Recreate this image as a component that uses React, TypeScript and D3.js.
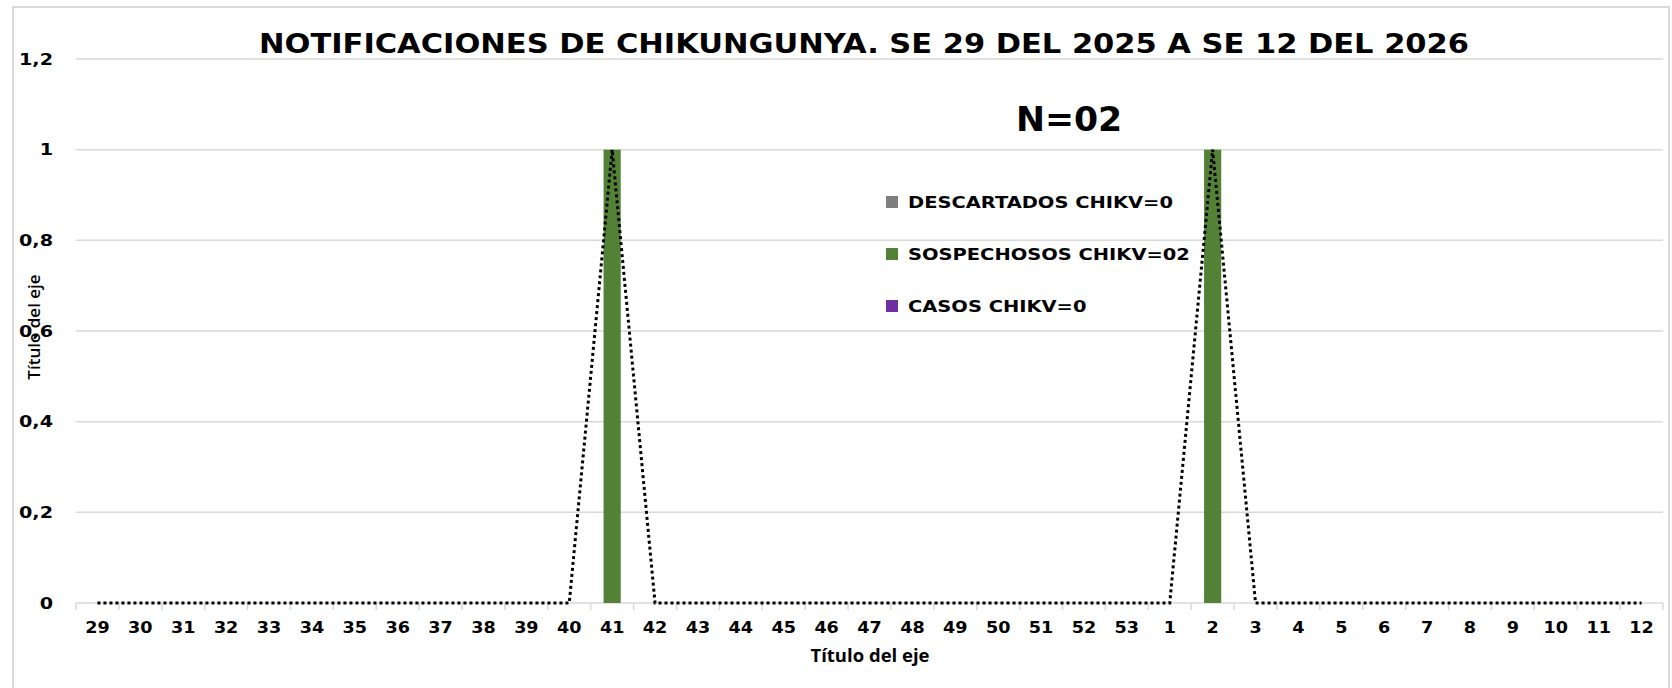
import * as d3 from "d3";

// semanas epidemiologicas
const weeks = [
  "29", "30", "31", "32", "33", "34", "35", "36", "37", "38", "39", "40", "41",
  "42", "43", "44", "45", "46", "47", "48", "49", "50", "51", "52", "53",
  "1", "2", "3", "4", "5", "6", "7", "8", "9", "10", "11", "12",
];
const descartados = [
  0, 0, 0, 0, 0, 0, 0, 0, 0, 0, 0, 0, 0, 0, 0, 0, 0, 0, 0, 0, 0, 0, 0, 0, 0,
  0, 0, 0, 0, 0, 0, 0, 0, 0, 0, 0, 0,
];
const sospechosos = [
  0, 0, 0, 0, 0, 0, 0, 0, 0, 0, 0, 0, 1, 0, 0, 0, 0, 0, 0, 0, 0, 0, 0, 0, 0,
  0, 1, 0, 0, 0, 0, 0, 0, 0, 0, 0, 0,
];
const casos = [
  0, 0, 0, 0, 0, 0, 0, 0, 0, 0, 0, 0, 0, 0, 0, 0, 0, 0, 0, 0, 0, 0, 0, 0, 0,
  0, 0, 0, 0, 0, 0, 0, 0, 0, 0, 0, 0,
];
const yTicks = [0, 0.2, 0.4, 0.6, 0.8, 1, 1.2];
const legendNames = ["DESCARTADOS CHIKV=0", "SOSPECHOSOS CHIKV=02", "CASOS CHIKV=0"];
const colors = ["#7f7f7f", "#538135", "#7030a0"];

export default function App() {
  const width = 1672,
    height = 688,
    plotLeft = 76,
    plotRight = 1663,
    plotTop = 59,
    plotBottom = 603,
    font = "'DejaVu Sans', sans-serif",
    grid = "#d9d9d9",
    stretch = 1.2; // el original esta estirado a lo ancho

  const xScale = d3.scaleBand().domain(weeks).range([plotLeft, plotRight]);
  const yScale = d3.scaleLinear().domain([0, 1.2]).range([plotBottom, plotTop]);
  const barW = xScale.bandwidth() * 0.4;
  const fmt = (v) => String(v).replace(".", ",");

  const line = d3
    .line()
    .x((d, i) => xScale(weeks[i]) + xScale.bandwidth() / 2)
    .y((d) => yScale(d));

  const series = [descartados, sospechosos, casos];

  return (
    <div style={{ position: "fixed", left: 0, top: 0 }}>
      <svg width={width} height={height} style={{ display: "block", background: "#fff" }}>
        <rect x={13} y={7} width={1656} height={720} fill="none" stroke={grid} strokeWidth={2} />

        {/* gridlines */}
        {yTicks.map((t) => (
          <line key={t} x1={plotLeft} x2={plotRight} y1={yScale(t)} y2={yScale(t)} stroke={grid} strokeWidth={1.5} />
        ))}
        {/* x axis ticks */}
        {weeks.concat(["end"]).map((w, i) => {
          const x = plotLeft + i * xScale.step();
          return <line key={"t" + i} x1={x} x2={x} y1={plotBottom} y2={plotBottom + 7} stroke={grid} strokeWidth={1.5} />;
        })}

        {/* barras */}
        {series.map((s, si) =>
          s.map((v, i) =>
            v > 0 ? (
              <rect
                key={si + "-" + i}
                x={xScale(weeks[i]) + (xScale.bandwidth() - barW) / 2}
                y={yScale(v)}
                width={barW}
                height={yScale(0) - yScale(v)}
                fill={colors[si]}
              />
            ) : null
          )
        )}

        {/* linea punteada */}
        <path d={line(sospechosos)} fill="none" stroke="#000" strokeWidth={3} strokeDasharray="3 3" />

        {/* y labels */}
        {yTicks.map((t) => (
          <g key={"y" + t} transform={`translate(53 ${yScale(t)}) scale(${stretch} 1)`}>
            <text dy="0.35em" textAnchor="end" fontFamily={font} fontWeight="bold" fontSize={16}>
              {fmt(t)}
            </text>
          </g>
        ))}
        {/* x labels */}
        {weeks.map((w) => (
          <g key={"x" + w} transform={`translate(${xScale(w) + xScale.bandwidth() / 2} 633) scale(1.1 1)`}>
            <text textAnchor="middle" fontFamily={font} fontWeight="bold" fontSize={16}>
              {w}
            </text>
          </g>
        ))}

        <text x={864} y={53} textAnchor="middle" fontFamily={font} fontWeight="bold" fontSize={26} textLength={1210} lengthAdjust="spacingAndGlyphs">
          NOTIFICACIONES DE CHIKUNGUNYA. SE 29 DEL 2025 A SE 12 DEL 2026
        </text>
        <g transform={`translate(1069 131) scale(1.05 1)`}>
          <text textAnchor="middle" fontFamily={font} fontWeight="bold" fontSize={33}>
            N=02
          </text>
        </g>

        {/* leyenda */}
        {legendNames.map((n, i) => (
          <g key={n} transform={`translate(886 ${202 + i * 52})`}>
            <rect x={0} y={-6} width={12} height={12} fill={colors[i]} />
            <g transform={`translate(22 0) scale(1.18 1)`}>
              <text dy="0.36em" fontFamily={font} fontWeight="bold" fontSize={16.5}>
                {n}
              </text>
            </g>
          </g>
        ))}

        <text transform="translate(40 327) rotate(-90)" textAnchor="middle" fontFamily="'Open Sans', sans-serif" fontWeight="600" fontSize={17}>
          Título del eje
        </text>
        <text x={870} y={662} textAnchor="middle" fontFamily="'Open Sans', sans-serif" fontWeight="bold" fontSize={18.5}>
          Título del eje
        </text>
      </svg>
    </div>
  );
}
